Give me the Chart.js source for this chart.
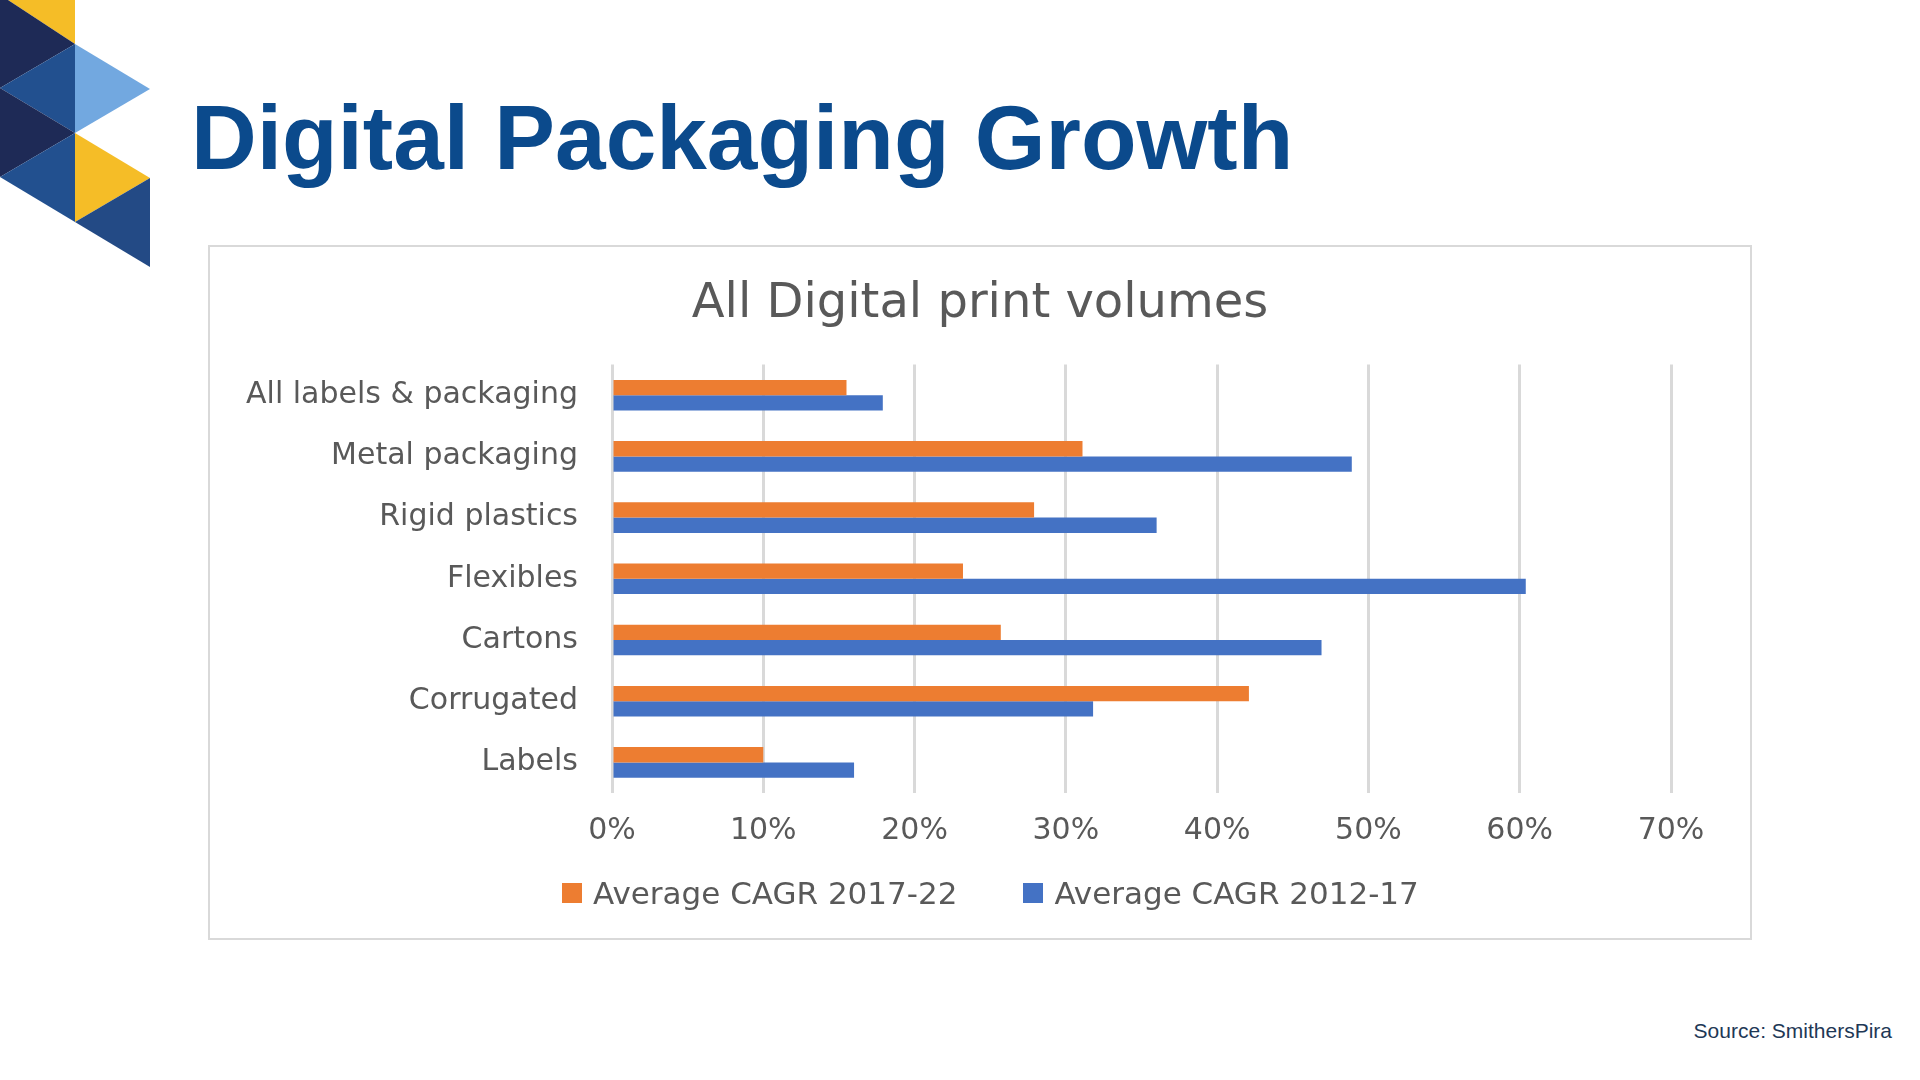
<!DOCTYPE html>
<html>
<head>
<meta charset="utf-8">
<script src="https://cdn.jsdelivr.net/npm/chart.js@4.4.1/dist/chart.umd.min.js"></script>
<style>
  body { margin: 0; width: 1920px; height: 1080px; background: #fff; position: relative; overflow: hidden; }
  .logo { position: absolute; left: 0; top: 0; }
  .title { position: absolute; left: 191px; top: 92px; font: bold 91px "Liberation Sans", Arial, sans-serif; line-height: 1; color: #0b4a8c; white-space: nowrap; }
  .frame { position: absolute; left: 208px; top: 245px; width: 1544px; height: 695px; border: 2px solid #d9d9d9; box-sizing: border-box; }
  .frame canvas { position: absolute; left: 0; top: 0; }
  #legend { position: absolute; left: 562px; top: 875px; display: flex; align-items: center; font: 31px "DejaVu Sans", sans-serif; line-height: 36px; color: #595959; white-space: nowrap; }
  #legend .item { display: flex; align-items: center; margin-right: 66px; }
  #legend .item:last-child { margin-right: 0; }
  #legend .box { width: 20px; height: 20px; margin-right: 11px; }
  .source { position: absolute; right: 28px; top: 1020px; font: 21px "Liberation Sans", Arial, sans-serif; line-height: 1; color: #1e3856; }
</style>
</head>
<body>
<svg class="logo" width="152" height="270">
  <polygon points="8,0 75,0 75,44" fill="#f5bd27"/>
  <polygon points="0,0 8,0 75,44 0,88" fill="#1e2a56"/>
  <polygon points="0,88 75,44 75,133" fill="#22508f"/>
  <polygon points="75,44 150,89 75,133" fill="#72a8e0"/>
  <polygon points="0,88 75,133 0,177" fill="#1e2a56"/>
  <polygon points="0,177 75,133 75,222" fill="#22508f"/>
  <polygon points="75,133 150,178 75,222" fill="#f5bd27"/>
  <polygon points="75,222 150,178 150,267" fill="#234a85"/>
</svg>
<div class="title">Digital Packaging Growth</div>
<div class="frame"><canvas id="chart" width="1540" height="691"></canvas></div>
<div id="legend"></div>
<div class="source">Source: SmithersPira</div>
<script>
// data
const categories = ['All labels & packaging', 'Metal packaging', 'Rigid plastics', 'Flexibles', 'Cartons', 'Corrugated', 'Labels'];
const cagr2017_22 = [15.5, 31.1, 27.9, 23.2, 25.7, 42.1, 10.0];
const cagr2012_17 = [17.9, 48.9, 36.0, 60.4, 46.9, 31.8, 16.0];
const xTicks = [0, 10, 20, 30, 40, 50, 60, 70];

const textColor = '#595959';
const axisFont = { family: 'DejaVu Sans', size: 30 };

// legend as html, built from the chart's datasets
const htmlLegend = {
  id: 'htmlLegend',
  afterUpdate(chart) {
    const box = document.getElementById('legend');
    box.innerHTML = '';
    chart.data.datasets.forEach(ds => {
      const item = document.createElement('div');
      item.className = 'item';
      const sw = document.createElement('span');
      sw.className = 'box';
      sw.style.background = ds.backgroundColor;
      const txt = document.createElement('span');
      txt.textContent = ds.label;
      item.appendChild(sw);
      item.appendChild(txt);
      box.appendChild(item);
    });
  }
};

const ctx = document.getElementById('chart').getContext('2d');
const chart = new Chart(ctx, {
  type: 'bar',
  data: {
    labels: categories,
    datasets: [
      { label: 'Average CAGR 2017-22', data: cagr2017_22, backgroundColor: '#ed7d31' },
      { label: 'Average CAGR 2012-17', data: cagr2012_17, backgroundColor: '#4472c4' }
    ]
  },
  options: {
    indexAxis: 'y',
    responsive: false,
    animation: false,
    devicePixelRatio: 1,
    categoryPercentage: 0.5,
    barPercentage: 1.0,
    layout: { padding: { left: 0, right: 0, top: 0, bottom: 85 } },
    scales: {
      x: {
        min: 0,
        max: 70,
        afterBuildTicks: (scale) => { scale.ticks = xTicks.map(v => ({ value: v })); },
        afterFit: (scale) => { scale.height = 60; },
        grid: { color: '#d9d9d9', lineWidth: 3, drawTicks: false },
        border: { display: false },
        ticks: { color: textColor, font: axisFont, padding: 20, callback: (v) => v + '%' }
      },
      y: {
        afterFit: (scale) => { scale.width = 402; },
        grid: { display: false, drawTicks: false },
        border: { display: false },
        ticks: { color: textColor, font: axisFont, padding: 34 }
      },
      // empty right-hand spacer so the title centres on the frame
      yRight: {
        type: 'linear',
        axis: 'y',
        position: 'right',
        afterFit: (scale) => { scale.width = 79; },
        grid: { display: false, drawTicks: false },
        border: { display: false },
        ticks: { display: false }
      }
    },
    plugins: {
      title: {
        display: true,
        text: 'All Digital print volumes',
        color: textColor,
        font: { family: 'DejaVu Sans', size: 48, weight: 'normal' },
        padding: { top: 29, bottom: 31 }
      },
      legend: { display: false },
      tooltip: { enabled: false }
    }
  },
  plugins: [htmlLegend]
});
</script>
</body>
</html>
